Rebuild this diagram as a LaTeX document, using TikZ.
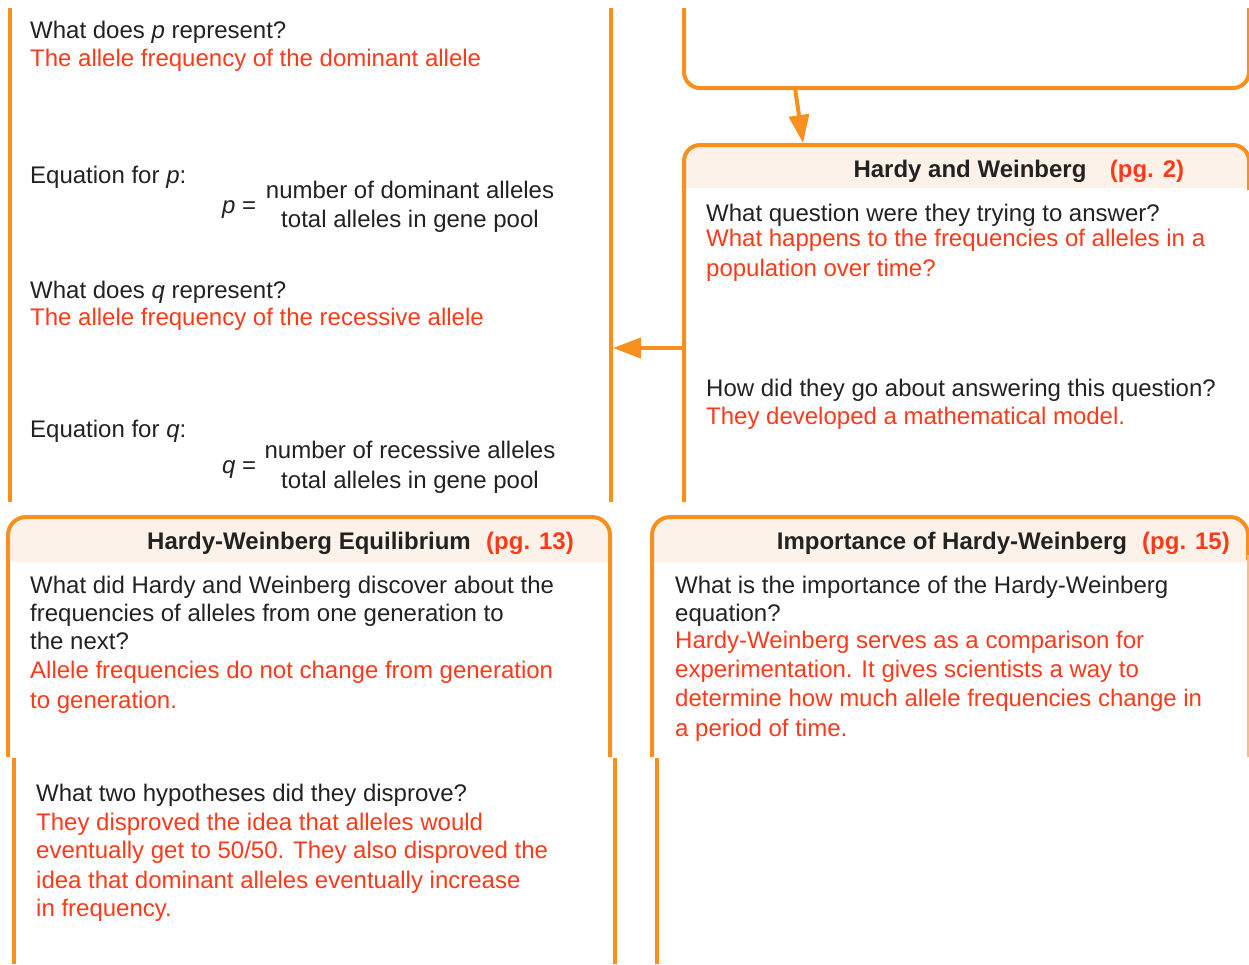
\documentclass[tikz,border=0pt]{standalone}
\usepackage{fontspec}
\setmainfont{Liberation Sans}
\usetikzlibrary{arrows.meta}
\definecolor{org}{HTML}{F7901E}
\definecolor{hdrfill}{HTML}{FDF2E9}
\definecolor{txtblack}{HTML}{222222}
\definecolor{txtred}{HTML}{FF3A1A}
\tikzset{
  box/.style={draw=org, line width=4pt},
  fadebox/.style={draw=org!60, line width=3pt},
  hdr/.style={fill=hdrfill},
  arr/.style={draw=org, line width=4pt, -{Triangle[length=28pt,width=20pt]}},
  blk/.style={anchor=base west, inner sep=0pt, text=txtblack, font=\fontsize{24}{28}\selectfont},
  red/.style={anchor=base west, inner sep=0pt, text=txtred, font=\fontsize{24}{28}\selectfont},
  frac/.style={anchor=base, inner sep=0pt, text=txtblack, font=\fontsize{24}{28}\selectfont},
  head/.style={anchor=base, inner sep=0pt, text=txtblack, font=\bfseries\fontsize{24}{28}\selectfont},
  pg/.style={anchor=base, inner sep=0pt, text=txtred, font=\bfseries\fontsize{24}{28}\selectfont},
}
\begin{document}
\begin{tikzpicture}[x=1pt,y=-1pt]
\useasboundingbox (0,0) rectangle (1249,964);
\clip (0,0) rectangle (1249,964);
\fill[white] (0,0) rectangle (1249,964);

% ---------- top-left panel ----------
\draw[box] (10,8) -- (10,502);
\draw[box] (611,8) -- (611,502);
\node[blk] (t1) at (30,38) {What does \textit{p} represent?};
\node[red] (t2) at (30,66) {The allele frequency of the dominant allele};
\node[blk] (t3) at (30,183) {Equation for \textit{p}:};
\node[blk] (t4) at (222,213) {\textit{p} =};
\node[frac] (t5) at (410,198) {number of dominant alleles};
\node[frac] (t6) at (410,227) {total alleles in gene pool};
\node[blk] (t7) at (30,298) {What does \textit{q} represent?};
\node[red] (t8) at (30,325) {The allele frequency of the recessive allele};
\node[blk] (t9) at (30,437) {Equation for \textit{q}:};
\node[blk] (t10) at (222,473) {\textit{q} =};
\node[frac] (t11) at (410,458) {number of recessive alleles};
\node[frac] (t12) at (410,488) {total alleles in gene pool};

% ---------- top-right box ----------
\draw[box, rounded corners=16] (684,8) -- (684,88) -- (1249,88) -- (1249,8);
\coordinate (a1s) at (795,88);

% ---------- Hardy and Weinberg ----------
\fill[hdr] (684,188) {[rounded corners=16] -- (684,145) -- (1249,145)} -- (1249,188) -- cycle;
\draw[box, rounded corners=16] (684,502) -- (684,145) -- (1249,145) -- (1249,190);
\coordinate (a1e) at (803,143);
\node[head] (h1) at (970,177) {Hardy and Weinberg};
\node[pg] (h1p) at (1147,177) {(pg. 2)};
\node[blk] (u1) at (706,221) {What question were they trying to answer?};
\node[red] (u2) at (706,246) {What happens to the frequencies of alleles in a};
\node[red] (u3) at (706,276) {population over time?};
\node[blk] (u4) at (706,396) {How did they go about answering this question?};
\node[red] (u5) at (706,424) {They developed a mathematical model.};
\draw[arr] (a1s) -- (a1e);
\coordinate (a2s) at (684,348);
\coordinate (a2e) at (613,348);
\draw[arr] (a2s) -- (a2e);

% ---------- Hardy-Weinberg Equilibrium ----------
\fill[hdr] (8,562) {[rounded corners=18] -- (8,517) -- (610,517)} -- (610,562) -- cycle;
\draw[box, rounded corners=18] (8,757) -- (8,517) -- (610,517) -- (610,757);
\node[head] (h2) at (309,549) {Hardy-Weinberg Equilibrium};
\node[pg] (h2p) at (530,549) {(pg. 13)};
\node[blk] (v1) at (30,593) {What did Hardy and Weinberg discover about the};
\node[blk] (v2) at (30,621) {frequencies of alleles from one generation to};
\node[blk] (v3) at (30,649) {the next?};
\node[red] (v4) at (30,678) {Allele frequencies do not change from generation};
\node[red] (v5) at (30,708) {to generation.};

% ---------- Importance ----------
\fill[hdr] (652,562) {[rounded corners=18] -- (652,517) -- (1248,517)} -- (1248,562) -- cycle;
\draw[box, rounded corners=18] (652,757) -- (652,517) -- (1248,517) -- (1248,560);
\draw[fadebox] (1248,555) -- (1248,757);
\node[head] (h3) at (952,549) {Importance of Hardy-Weinberg};
\node[pg] (h3p) at (1186,549) {(pg. 15)};
\node[blk] (w1) at (675,593) {What is the importance of the Hardy-Weinberg};
\node[blk] (w2) at (675,621) {equation?};
\node[red] (w3) at (675,648) {Hardy-Weinberg serves as a comparison for};
\node[red] (w4) at (675,677) {experimentation. It gives scientists a way to};
\node[red] (w5) at (675,706) {determine how much allele frequencies change in};
\node[red] (w6) at (675,736) {a period of time.};

% ---------- bottom panels ----------
\draw[box] (14,758) -- (14,964);
\draw[box] (615,758) -- (615,964);
\draw[box] (657,758) -- (657,964);
\node[blk] (x1) at (36,801) {What two hypotheses did they disprove?};
\node[red] (x2) at (36,830) {They disproved the idea that alleles would};
\node[red] (x3) at (36,858) {eventually get to 50/50. They also disproved the};
\node[red] (x4) at (36,888) {idea that dominant alleles eventually increase};
\node[red] (x5) at (36,916) {in frequency.};
\end{tikzpicture}
\end{document}
